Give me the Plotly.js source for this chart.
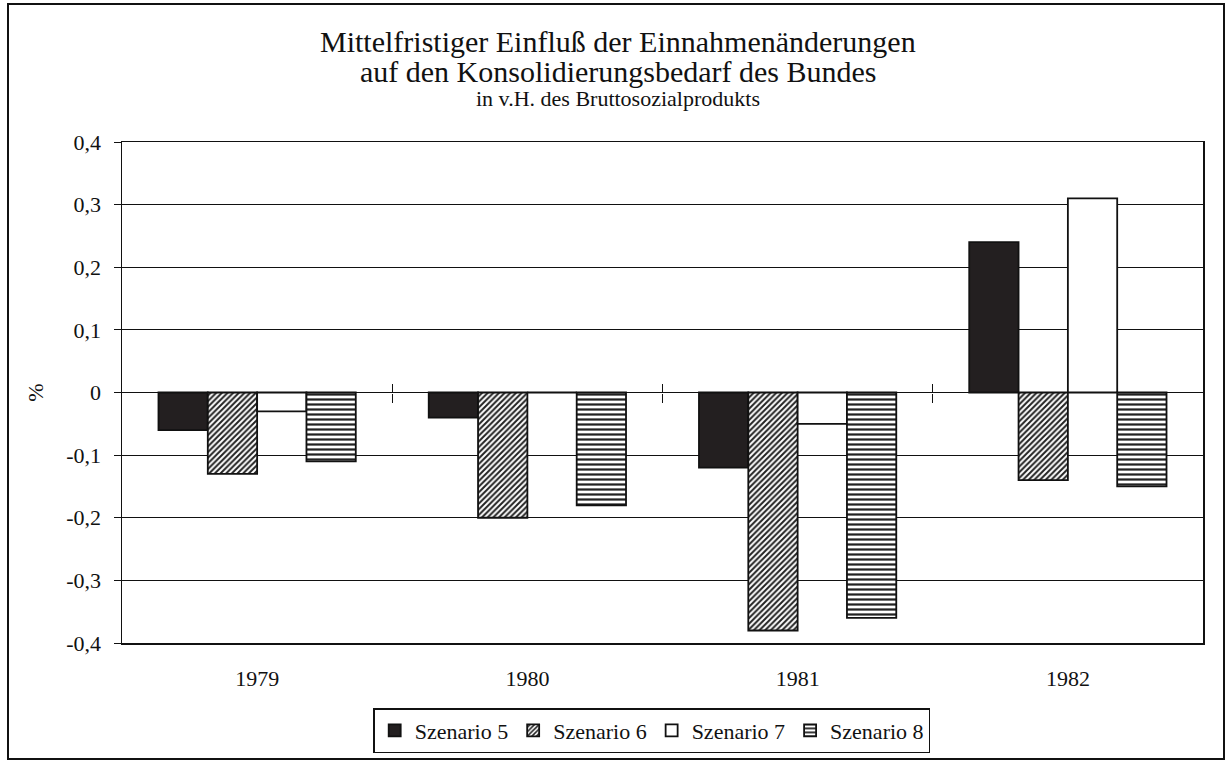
<!DOCTYPE html>
<html>
<head>
<meta charset="utf-8">
<script src="https://cdn.plot.ly/plotly-3.0.1.min.js"></script>
<style>
html,body{margin:0;padding:0;background:#fff;}
#wrap{position:relative;width:1231px;height:765px;}
#chart{width:1231px;height:765px;}
#frame{position:absolute;left:7px;top:3px;width:1218px;height:757px;border:2px solid #111;pointer-events:none;box-sizing:border-box;}
</style>
</head>
<body>
<div id="wrap">
<div id="chart"></div>
<div id="frame"></div>
</div>
<script>
const years = ['1979', '1980', '1981', '1982'];
const seriesNames = ['Szenario 5', 'Szenario 6', 'Szenario 7', 'Szenario 8'];
const szenario5 = [-0.06, -0.04, -0.12, 0.24];
const szenario6 = [-0.13, -0.20, -0.38, -0.14];
const szenario7 = [-0.03, 0.00, -0.05, 0.31];
const szenario8 = [-0.11, -0.18, -0.36, -0.15];
const yTickVals = [-0.4, -0.3, -0.2, -0.1, 0, 0.1, 0.2, 0.3, 0.4];
const yTickText = ['-0,4', '-0,3', '-0,2', '-0,1', '0', '0,1', '0,2', '0,3', '0,4'];
const boundaryTicks = [0.5, 1.5, 2.5];
const titleLines = ['Mittelfristiger Einfluß der Einnahmenänderungen', 'auf den Konsolidierungsbedarf des Bundes', 'in v.H. des Bruttosozialprodukts'];

const serif = 'Liberation Serif';
const outline = {color: '#111', width: 1.8};

const traces = [
  {type: 'bar', name: seriesNames[0], x: years, y: szenario5,
   marker: {color: '#231f20', line: outline}},
  {type: 'bar', name: seriesNames[1], x: years, y: szenario6,
   marker: {color: '#fff', line: outline,
            pattern: {shape: '/', fgcolor: '#222', bgcolor: '#fff', size: 4, solidity: 0.5}}},
  {type: 'bar', name: seriesNames[2], x: years, y: szenario7,
   marker: {color: '#fff', line: outline}},
  {type: 'bar', name: seriesNames[3], x: years, y: szenario8,
   marker: {color: '#fff', line: outline,
            pattern: {shape: '-', fgcolor: '#222', bgcolor: '#fff', size: 5, solidity: 0.45}}}
];

const tickAxis = (dir) => ({
  type: 'linear', range: [-0.5, 3.5], overlaying: 'x', anchor: 'free', position: 0.5,
  tickvals: boundaryTicks, showticklabels: false, ticks: dir, ticklen: 9,
  tickcolor: '#111', tickwidth: 1.2, showgrid: false, showline: false, zeroline: false
});

const titleAnn = (text, yPx, size) => ({
  text: text, xref: 'paper', yref: 'paper', x: (618 - 122) / 1081, xanchor: 'center',
  y: 1 + (142 - yPx) / 506, yanchor: 'middle', showarrow: false,
  font: {family: serif, size: size, color: '#111'}
});

const layout = {
  width: 1231, height: 765,
  paper_bgcolor: '#fff', plot_bgcolor: '#fff',
  margin: {l: 122, r: 28, t: 142, b: 117},
  font: {family: serif, color: '#111', size: 22},
  annotations: [
    titleAnn(titleLines[0], 41, 30),
    titleAnn(titleLines[1], 71, 30),
    titleAnn(titleLines[2], 98, 22)
  ],
  barmode: 'group', bargap: 0.27, bargroupgap: 0,
  showlegend: true,
  legend: {orientation: 'h', x: 0.49, xanchor: 'center', y: -0.13, yanchor: 'top',
           bordercolor: '#111', borderwidth: 1.5, font: {family: serif, size: 22},
           itemwidth: 30, traceorder: 'normal'},
  xaxis: {type: 'category', showgrid: false, zeroline: false,
          showline: true, mirror: true, linecolor: '#111', linewidth: 1.5,
          ticks: '', ticklabelstandoff: 15, tickfont: {family: serif, size: 22}},
  xaxis2: tickAxis('outside'),
  xaxis3: tickAxis('inside'),
  yaxis: {range: [-0.4, 0.4], tickvals: yTickVals, ticktext: yTickText,
          showgrid: true, gridcolor: '#111', gridwidth: 1,
          zeroline: true, zerolinecolor: '#111', zerolinewidth: 1.5,
          showline: true, mirror: true, linecolor: '#111', linewidth: 1.5,
          ticks: 'outside', ticklen: 7, tickcolor: '#111', ticklabelstandoff: 8,
          tickfont: {family: serif, size: 22},
          title: {text: '%', font: {family: serif, size: 22}, standoff: 16}}
};

traces.push({type: 'scatter', x: [0], y: [0], xaxis: 'x2', mode: 'none', showlegend: false, hoverinfo: 'skip'});
traces.push({type: 'scatter', x: [0], y: [0], xaxis: 'x3', mode: 'none', showlegend: false, hoverinfo: 'skip'});

Plotly.newPlot('chart', traces, layout, {displayModeBar: false, staticPlot: true});
</script>
</body>
</html>
